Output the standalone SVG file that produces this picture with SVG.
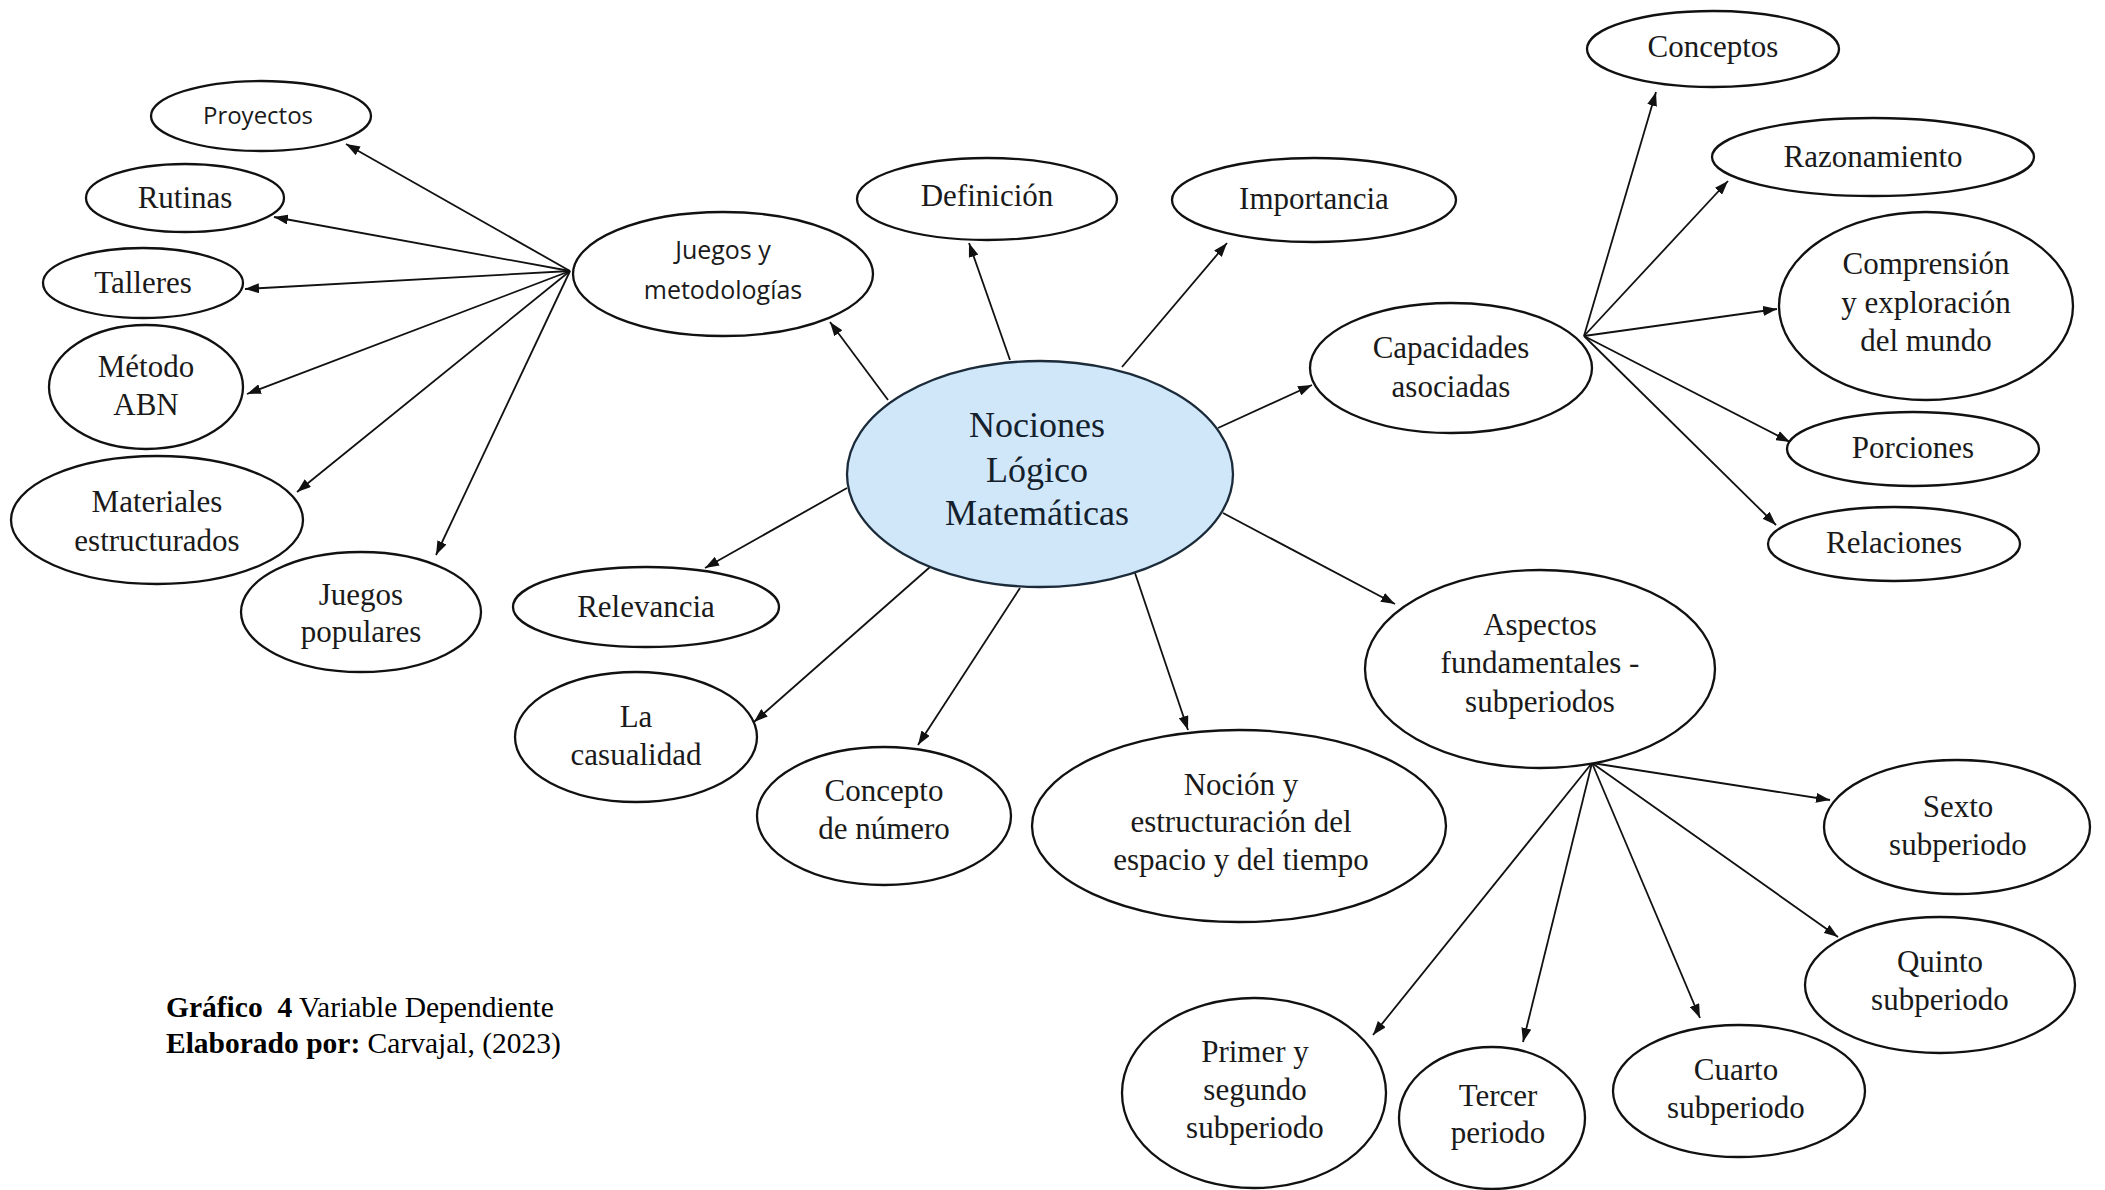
<svg xmlns="http://www.w3.org/2000/svg" width="2105" height="1190" viewBox="0 0 2105 1190">
<style>
.bg{fill:#fff}
ellipse{fill:#fff;stroke:#111;stroke-width:2.3}
ellipse.main{fill:#cfe7f9;stroke:#1c2b3a}
text{font-family:"Liberation Serif","Times New Roman",serif;font-size:31px;fill:#1a1a1a;text-anchor:middle}
text.sans{font-family:"Open Sans","Liberation Sans",sans-serif;font-size:25px}
text.sm{font-size:24px}
text.big{font-size:36px;fill:#14202c}
text.cap{font-size:29.5px;text-anchor:start;fill:#000}
.b{font-weight:bold}
#connectors line{stroke:#111;stroke-width:1.8;marker-end:url(#ah)}
</style>
<defs>
<marker id="ah" markerWidth="14" markerHeight="10" refX="14" refY="5" orient="auto" markerUnits="userSpaceOnUse">
<path d="M0,0 L14,5 L0,10 z" fill="#111"/>
</marker>
</defs>
<rect class="bg" x="0" y="0" width="2105" height="1190"/>

<g id="connectors">
<!-- from Juegos y metodologías -->
<line x1="570" y1="271" x2="346" y2="144"/>
<line x1="570" y1="271" x2="274" y2="217"/>
<line x1="570" y1="271" x2="245" y2="289"/>
<line x1="570" y1="271" x2="247" y2="394"/>
<line x1="570" y1="271" x2="297" y2="492"/>
<line x1="570" y1="271" x2="436" y2="555"/>
<!-- from Nociones -->
<line x1="888" y1="400" x2="830" y2="322"/>
<line x1="1010" y1="360" x2="969" y2="243"/>
<line x1="1122" y1="367" x2="1227" y2="243"/>
<line x1="1218" y1="428" x2="1312" y2="385"/>
<line x1="1223" y1="513" x2="1395" y2="604"/>
<line x1="1135" y1="573" x2="1188" y2="730"/>
<line x1="1020" y1="588" x2="918" y2="745"/>
<line x1="930" y1="567" x2="754" y2="722"/>
<line x1="847" y1="488" x2="705" y2="568"/>
<!-- from Capacidades asociadas -->
<line x1="1584" y1="336" x2="1656" y2="92"/>
<line x1="1584" y1="336" x2="1728" y2="181"/>
<line x1="1584" y1="336" x2="1777" y2="309"/>
<line x1="1584" y1="336" x2="1790" y2="442"/>
<line x1="1584" y1="336" x2="1776" y2="525"/>
<!-- from Aspectos fundamentales -->
<line x1="1592" y1="763" x2="1830" y2="800"/>
<line x1="1592" y1="763" x2="1838" y2="937"/>
<line x1="1592" y1="763" x2="1700" y2="1018"/>
<line x1="1592" y1="763" x2="1523" y2="1042"/>
<line x1="1592" y1="763" x2="1373" y2="1035"/>
</g>

<g id="n-proyectos"><ellipse cx="261" cy="116" rx="110" ry="35"/><text class="sans sm" x="258" y="124">Proyectos</text></g>
<g id="n-rutinas"><ellipse cx="185" cy="198" rx="99" ry="34"/><text x="185" y="208">Rutinas</text></g>
<g id="n-talleres"><ellipse cx="143" cy="283" rx="100" ry="35"/><text x="143" y="293">Talleres</text></g>
<g id="n-metodo"><ellipse cx="146" cy="387" rx="97" ry="62"/><text x="146" y="377">Método</text><text x="146" y="415">ABN</text></g>
<g id="n-materiales"><ellipse cx="157" cy="520" rx="146" ry="64"/><text x="157" y="512">Materiales</text><text x="157" y="551">estructurados</text></g>
<g id="n-populares"><ellipse cx="361" cy="612" rx="120" ry="60"/><text x="361" y="605">Juegos</text><text x="361" y="642">populares</text></g>
<g id="n-juegos"><ellipse cx="723" cy="274" rx="150" ry="62"/><text class="sans" x="723" y="259">Juegos y</text><text class="sans" x="723" y="299">metodologías</text></g>
<g id="n-definicion"><ellipse cx="987" cy="199" rx="130" ry="41"/><text x="987" y="206">Definición</text></g>
<g id="n-importancia"><ellipse cx="1314" cy="200" rx="142" ry="42"/><text x="1314" y="209">Importancia</text></g>
<g id="n-nociones"><ellipse class="main" cx="1040" cy="474" rx="193" ry="113"/><text class="big" x="1037" y="437">Nociones</text><text class="big" x="1037" y="482">Lógico</text><text class="big" x="1037" y="525">Matemáticas</text></g>
<g id="n-capacidades"><ellipse cx="1451" cy="368" rx="141" ry="65"/><text x="1451" y="358">Capacidades</text><text x="1451" y="397">asociadas</text></g>
<g id="n-conceptos"><ellipse cx="1713" cy="49" rx="126" ry="38"/><text x="1713" y="57">Conceptos</text></g>
<g id="n-razonamiento"><ellipse cx="1873" cy="157" rx="161" ry="39"/><text x="1873" y="167">Razonamiento</text></g>
<g id="n-comprension"><ellipse cx="1926" cy="306" rx="147" ry="94"/><text x="1926" y="274">Comprensión</text><text x="1926" y="313">y exploración</text><text x="1926" y="351">del mundo</text></g>
<g id="n-porciones"><ellipse cx="1913" cy="449" rx="126" ry="37"/><text x="1913" y="458">Porciones</text></g>
<g id="n-relaciones"><ellipse cx="1894" cy="544" rx="126" ry="37"/><text x="1894" y="553">Relaciones</text></g>
<g id="n-relevancia"><ellipse cx="646" cy="607" rx="133" ry="40"/><text x="646" y="617">Relevancia</text></g>
<g id="n-casualidad"><ellipse cx="636" cy="737" rx="121" ry="65"/><text x="636" y="727">La</text><text x="636" y="765">casualidad</text></g>
<g id="n-concepto"><ellipse cx="884" cy="816" rx="127" ry="69"/><text x="884" y="801">Concepto</text><text x="884" y="839">de número</text></g>
<g id="n-nocion"><ellipse cx="1239" cy="826" rx="207" ry="96"/><text x="1241" y="795">Noción y</text><text x="1241" y="832">estructuración del</text><text x="1241" y="870">espacio y del tiempo</text></g>
<g id="n-aspectos"><ellipse cx="1540" cy="669" rx="175" ry="99"/><text x="1540" y="635">Aspectos</text><text x="1540" y="673">fundamentales -</text><text x="1540" y="712">subperiodos</text></g>
<g id="n-sexto"><ellipse cx="1957" cy="827" rx="133" ry="67"/><text x="1958" y="817">Sexto</text><text x="1958" y="855">subperiodo</text></g>
<g id="n-quinto"><ellipse cx="1940" cy="985" rx="135" ry="68"/><text x="1940" y="972">Quinto</text><text x="1940" y="1010">subperiodo</text></g>
<g id="n-cuarto"><ellipse cx="1739" cy="1091" rx="126" ry="66"/><text x="1736" y="1080">Cuarto</text><text x="1736" y="1118">subperiodo</text></g>
<g id="n-tercer"><ellipse cx="1492" cy="1118" rx="93" ry="71"/><text x="1498" y="1106">Tercer</text><text x="1498" y="1143">periodo</text></g>
<g id="n-primer"><ellipse cx="1254" cy="1093" rx="132" ry="95"/><text x="1255" y="1062">Primer y</text><text x="1255" y="1100">segundo</text><text x="1255" y="1138">subperiodo</text></g>

<g id="caption">
<text class="cap" x="166" y="1017"><tspan class="b">Gráfico &#160;4</tspan> Variable Dependiente</text>
<text class="cap" x="166" y="1053"><tspan class="b">Elaborado por:</tspan> Carvajal, (2023)</text>
</g>
</svg>
